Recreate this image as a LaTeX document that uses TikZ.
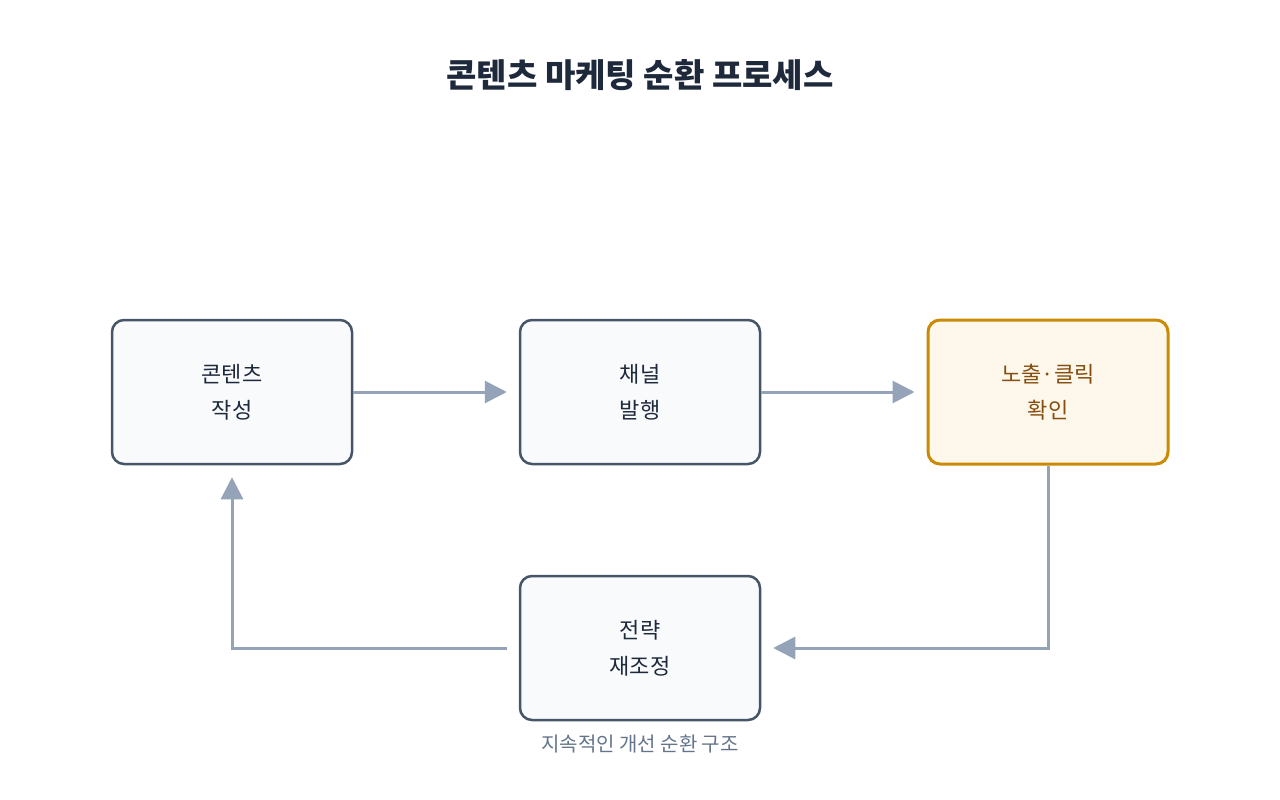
\documentclass[tikz,border=0pt]{standalone}
\usepackage{fontspec}
\setmainfont{Noto Sans CJK KR}
\usetikzlibrary{arrows.meta}
\definecolor{bd}{HTML}{475569}
\definecolor{bg}{HTML}{F8FAFC}
\definecolor{ar}{HTML}{94A3B8}
\definecolor{hb}{HTML}{CA8A04}
\definecolor{hf}{HTML}{FEF8EC}
\definecolor{ht}{HTML}{854D0E}
\definecolor{tx}{HTML}{1E293B}
\definecolor{cap}{HTML}{64748B}
\begin{document}
\begin{tikzpicture}[x=1pt,y=-1pt,
 box/.style={draw=bd,fill=bg,line width=2.5pt,rounded corners=12pt,minimum width=240pt,minimum height=144pt,text=tx,font=\fontsize{22}{36}\selectfont,align=center,inner sep=0pt},
 hl/.style={box,draw=hb,fill=hf,text=ht,line width=3pt},
 arr/.style={draw=ar,line width=3pt,-{Triangle[length=22pt,width=22pt]}}]
\useasboundingbox (0,0) rectangle (1280,800);
\node[font=\fontsize{33}{38}\selectfont\bfseries,text=tx] (t) at (640,75) {콘텐츠 마케팅 순환 프로세스};
\node[box] (a) at (232,392) {콘텐츠\\작성};
\node[box] (b) at (640,392) {채널\\발행};
\node[hl] (c) at (1048,392) {노출·클릭\\확인};
\node[box] (d) at (640,648) {전략\\재조정};
\node[font=\fontsize{20}{22}\selectfont,text=cap] (cp) at (640,744) {지속적인 개선 순환 구조};
\draw[arr] (a.east) -- ([xshift=-12pt]b.west);
\draw[arr] (b.east) -- ([xshift=-12pt]c.west);
\draw[arr] (c.south) |- ([xshift=12pt]d.east);
\draw[arr] ([xshift=-12pt]d.west) -| ([yshift=-12pt]a.south);
\end{tikzpicture}
\end{document}
